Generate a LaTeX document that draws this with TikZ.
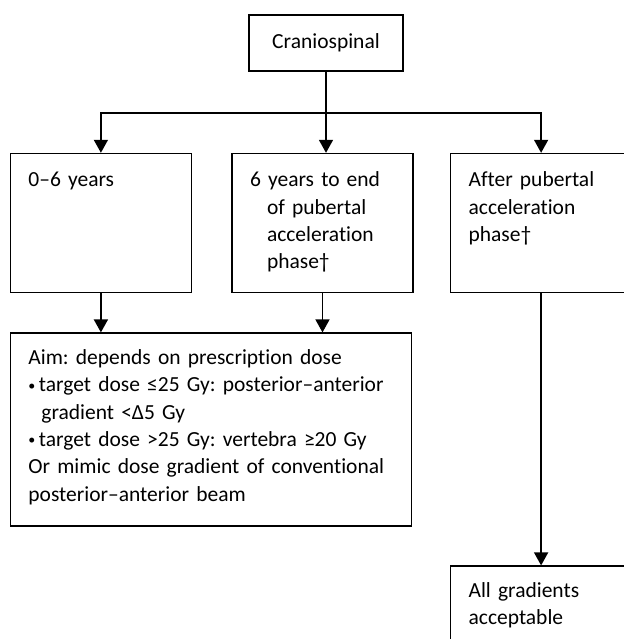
\documentclass[tikz,border=0pt]{standalone}
\usepackage{fontspec}
\setmainfont{Carlito}[Ligatures=NoCommon, WordSpace=0.75]
\frenchspacing
\usetikzlibrary{shapes.geometric, arrows.meta, positioning}

\begin{document}
\begin{tikzpicture}

      \tikzstyle{startbox}=[rectangle, draw, line width=1.6pt,
        minimum width=154pt, minimum height=56pt,
        font=\fontsize{21.5}{27.4}\selectfont]
      \tikzstyle{agebox}=[rectangle, draw, line width=1.6pt,
        text width=145pt, align=left, inner xsep=18pt, inner ysep=10pt,
        text height=23pt, text depth=96pt,
        font=\fontsize{21.5}{27.4}\selectfont]
      \tikzstyle{aimbox}=[agebox, text width=365pt,
        text height=21pt, text depth=152pt]
      \tikzstyle{flow}=[line width=1.6pt,
        -{Triangle[length=13pt,width=14pt]}]

      \useasboundingbox (0pt,0pt) rectangle (623pt,-639pt);

      \node(CRANIO1)[startbox] at (326pt,-43pt){Craniospinal};

      \node(AGE2)[agebox,below=81pt of CRANIO1,
        xshift=-3.5pt]{6 years to end\\
        \hspace*{17pt}of pubertal\\
        \hspace*{17pt}acceleration\\
        \hspace*{17pt}phase†};
      \node(AGE1)[agebox,left=39pt of AGE2]{0–6 years};
      \node(AGE3)[agebox,right=36pt of AGE2]{After pubertal\\
        acceleration\\phase†};

      \node(AIM1)[aimbox,below=39pt of AGE1.south west,
        anchor=north west]{Aim: depends on prescription dose\\
        \raisebox{1.5pt}{\fontsize{14}{14}\selectfont•}\,target dose ≤25 Gy: posterior–anterior\\
        \hspace*{13pt}gradient <Δ5 Gy\\
        \raisebox{1.5pt}{\fontsize{14}{14}\selectfont•}\,target dose >25 Gy: vertebra ≥20 Gy\\
        Or mimic dose gradient of conventional\\
        posterior–anterior beam};
      \node(ALL1)[agebox,below=272pt of AGE3,
        text height=21pt]{All gradients\\acceptable};

      \coordinate(SPLIT1) at ([yshift=-41pt]CRANIO1.south);

      \draw [flow] (CRANIO1.south)--(SPLIT1)-|(AGE1.north);
      \draw [flow] (SPLIT1)-|(AGE3.north);
      \draw [flow] (SPLIT1)--(SPLIT1 |- AGE2.north);

      \draw [flow] (AGE1.south)--(AGE1.south |- AIM1.north);
      \draw [flow] (AGE2.south)--(AGE2.south |- AIM1.north);
      \draw [flow] (AGE3.south)--(AGE3.south |- ALL1.north);

    \end{tikzpicture}
\end{document}
